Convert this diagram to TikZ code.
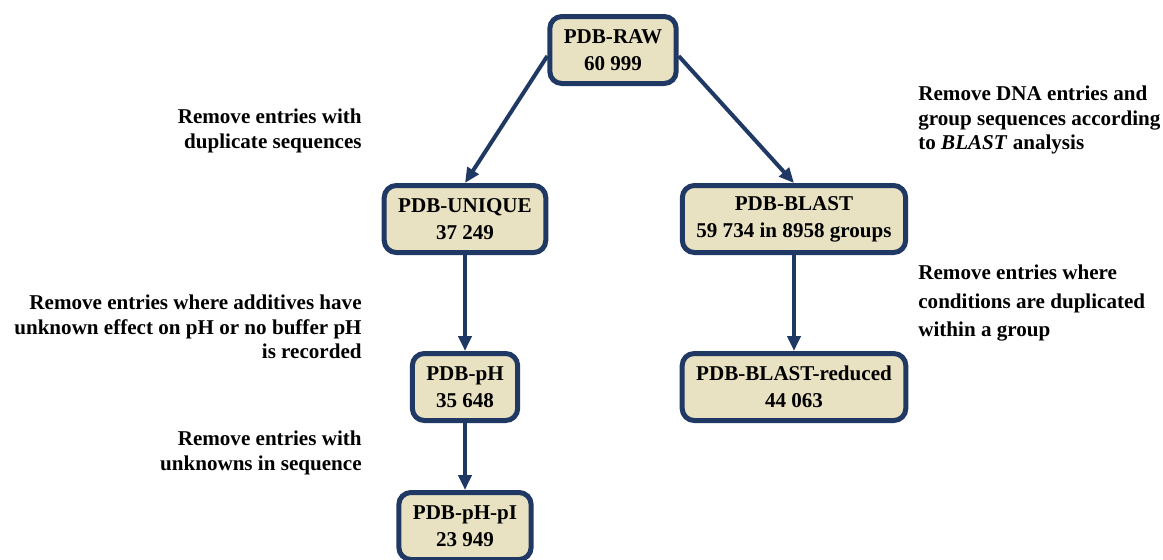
\documentclass[tikz,border=0pt]{standalone}
\usepackage{fontspec}
\setmainfont{Liberation Serif}
\usetikzlibrary{arrows.meta}
\definecolor{boxfill}{RGB}{232,226,194}
\definecolor{boxline}{RGB}{31,56,100}
\tikzset{
	stagebox/.style={draw=boxline, fill=boxfill, line width=0.1cm, rounded corners=0.24cm,
		inner xsep=0.28cm, minimum height=1.34cm, align=center,
		font=\bfseries\fontsize{12}{15.5}\selectfont},
	flow/.style={draw=boxline, line width=0.08cm, -{Triangle[length=0.3cm, width=0.26cm]}},
	stepnote/.style={inner sep=0pt, font=\bfseries\fontsize{12}{14}\selectfont}
}
\begin{document}
\begin{tikzpicture}[x=0.02cm, y=-0.02cm]
		%%%%% START %%%%%
		\useasboundingbox (0, 0) rectangle (1163, 559);
		
		\node[stagebox] (raw) at (613, 50) {PDB-RAW\\60 999};
		\node[stagebox] (unique) at (465, 219) {PDB-UNIQUE\\37 249};
		\node[stagebox] (blast) at (794, 219) {PDB-BLAST\\59 734 in 8958 groups};
		\node[stagebox] (ph) at (465, 387) {PDB-pH\\35 648};
		\node[stagebox] (reduced) at (794, 387) {PDB-BLAST-reduced\\44 063};
		\node[stagebox] (phpi) at (465, 526) {PDB-pH-pI\\23 949};
		
		\draw[flow] ([yshift=-0.12cm]raw.west) -- (unique.north);
		\draw[flow] ([yshift=-0.12cm]raw.east) -- (blast.north);
		\draw[flow] (unique.south) -- (ph.north);
		\draw[flow] (blast.south) -- (reduced.north);
		\draw[flow] (ph.south) -- (phpi.north);
		
		% left side notes
		\node[stepnote, anchor=east, align=right] (note-unique) at (362, 131) {Remove entries with\\duplicate sequences};
		\node[stepnote, anchor=east, align=right] (note-ph) at (362, 327) {Remove entries where additives have\\unknown effect on pH or no buffer pH\\is recorded};
		\node[stepnote, anchor=east, align=right] (note-phpi) at (362, 453) {Remove entries with\\unknowns in sequence};
		
		% right side notes
		\node[stepnote, anchor=west, align=left] (note-blast) at (918, 120) {Remove DNA entries and\\group sequences according\\to \textit{BLAST} analysis};
		\node[stepnote, anchor=west, align=left, font=\bfseries\fontsize{12}{16.5}\selectfont] (note-reduced) at (918, 303) {Remove entries where\\conditions are duplicated\\within a group};
		%%%%% END %%%%%
	\end{tikzpicture}
\end{document}
